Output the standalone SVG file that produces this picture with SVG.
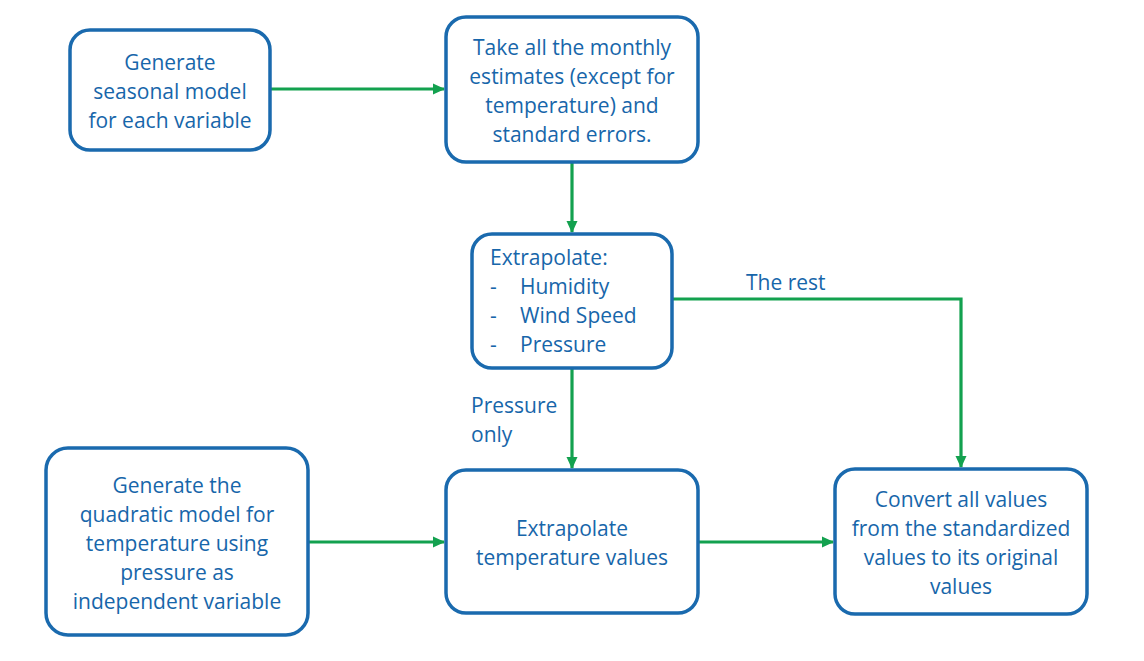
<svg xmlns="http://www.w3.org/2000/svg" width="1144" height="661" viewBox="0 0 1144 661">
<defs>
<marker id="ah" markerWidth="12" markerHeight="12" refX="11" refY="6" orient="auto" markerUnits="userSpaceOnUse" viewBox="0 0 12 12">
<path d="M0,0.5 L12,6 L0,11.5 z" fill="#13a14f"/>
</marker>
</defs>
<style>
.box{fill:#fff;stroke:#1a6aae;stroke-width:3.5}
.t{font-family:"Open Sans","Liberation Sans",sans-serif;font-size:21px;fill:#1766aa}
.c{text-anchor:middle}
.ln{fill:none;stroke:#13a14f;stroke-width:3.2}
</style>
<rect width="1144" height="661" fill="#fff"/>
<g id="connectors">
<path class="ln" d="M270,89 L444,89" marker-end="url(#ah)"/>
<path class="ln" d="M572,162 L572,232" marker-end="url(#ah)"/>
<path class="ln" d="M572,368 L572,468" marker-end="url(#ah)"/>
<path class="ln" d="M672,299 L961,299 L961,467" marker-end="url(#ah)"/>
<path class="ln" d="M308,542 L444,542" marker-end="url(#ah)"/>
<path class="ln" d="M698,542 L833,542" marker-end="url(#ah)"/>
<text class="t" x="746" y="290">The rest</text>
<text class="t" x="471" y="413">Pressure</text>
<text class="t" x="471" y="442">only</text>
</g>
<g id="n1">
<rect class="box" x="70" y="30" width="200" height="120" rx="20"/>
<text class="t c" x="170" y="70">Generate</text>
<text class="t c" x="170" y="99">seasonal model</text>
<text class="t c" x="170" y="128">for each variable</text>
</g>
<g id="n2">
<rect class="box" x="446" y="17" width="252" height="145" rx="20"/>
<text class="t c" x="572" y="55">Take all the monthly</text>
<text class="t c" x="572" y="84">estimates (except for</text>
<text class="t c" x="572" y="113">temperature) and</text>
<text class="t c" x="572" y="142">standard errors.</text>
</g>
<g id="n3">
<rect class="box" x="472" y="234" width="200" height="134" rx="20"/>
<text class="t" x="490" y="265">Extrapolate:</text>
<text class="t" x="490" y="294">-</text>
<text class="t" x="520" y="294">Humidity</text>
<text class="t" x="490" y="323">-</text>
<text class="t" x="520" y="323">Wind Speed</text>
<text class="t" x="490" y="352">-</text>
<text class="t" x="520" y="352">Pressure</text>
</g>
<g id="n4">
<rect class="box" x="46" y="448" width="262" height="187" rx="22"/>
<text class="t c" x="177" y="493">Generate the</text>
<text class="t c" x="177" y="522">quadratic model for</text>
<text class="t c" x="177" y="551">temperature using</text>
<text class="t c" x="177" y="580">pressure as</text>
<text class="t c" x="177" y="609">independent variable</text>
</g>
<g id="n5">
<rect class="box" x="446" y="470" width="252" height="143" rx="20"/>
<text class="t c" x="572" y="536">Extrapolate</text>
<text class="t c" x="572" y="565">temperature values</text>
</g>
<g id="n6">
<rect class="box" x="835" y="469" width="252" height="145" rx="20"/>
<text class="t c" x="961" y="507">Convert all values</text>
<text class="t c" x="961" y="536">from the standardized</text>
<text class="t c" x="961" y="565">values to its original</text>
<text class="t c" x="961" y="594">values</text>
</g>
</svg>
